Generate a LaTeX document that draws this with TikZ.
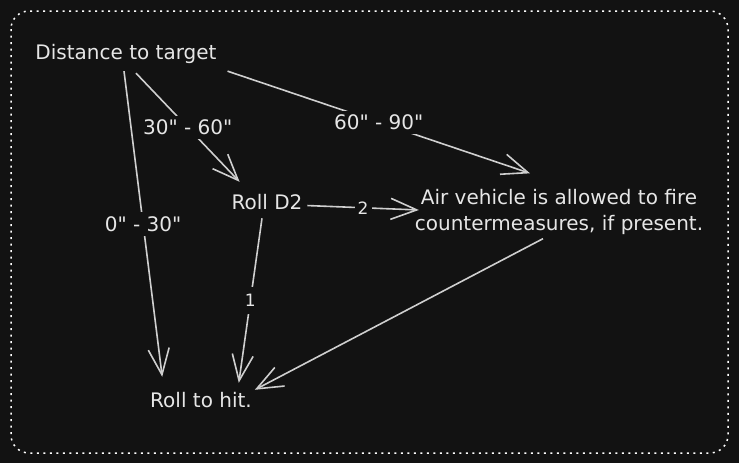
\documentclass[tikz,border=0pt]{standalone}
\usepackage{fontspec}
\setmainfont{DejaVu Sans}[Ligatures=TeXOff]
\usetikzlibrary{arrows.meta,calc}
\definecolor{boardbg}{HTML}{121212}
\definecolor{inkwhite}{HTML}{E6E6E6}
\definecolor{inkgray}{HTML}{CFCFCF}

\begin{document}
\begin{tikzpicture}[x=1pt, y=-1pt,
    txt/.style={text=inkwhite, font=\fontsize{20}{26}\selectfont,
                inner sep=2pt, outer sep=0pt, align=center, anchor=base},
    lbl/.style={text=inkwhite, fill=boardbg, inner sep=4pt,
                font=\fontsize{20}{24}\selectfont},
    sml/.style={lbl, inner sep=3pt, font=\fontsize{17}{20}\selectfont},
    arr/.style={-{Straight Barb[length=26pt,width=21pt]}, line width=1.6pt,
                color=inkgray}
  ]
    % board and dotted frame
    \fill[boardbg] (0,0) rectangle (739,463);
    \draw[white, line width=1.5pt, dash pattern=on 2pt off 4.5pt,
          rounded corners=18pt] (11,11) rectangle (728,453);

    \node[txt] (dist) at (126,59)  {Distance to target};
    \node[txt] (roll) at (267,209) {Roll D2};
    \node[txt, anchor=center] (air) at (559,212)
          {Air vehicle is allowed to fire\\ countermeasures, if present.};
    \node[txt] (hit)  at (201,407) {Roll to hit.};

    \draw[arr] ($(dist.south)+(-2,6)$) -- node[lbl] {0" - 30"}
               ($(hit.north west)+(14,-13)$);
    \draw[arr] ($(dist.south)+(10,8)$) -- node[lbl] {30" - 60"}
               ($(roll.north west)+(10,-10)$);
    \draw[arr] ($(dist.south east)+(9,6)$) -- node[lbl] {60" - 90"}
               ($(air.north)+(-29,-14)$);
    \draw[arr] ($(roll.east)+(3,4)$) -- node[sml] {2}
               ($(air.west)+(6,-2)$);
    \draw[arr] ($(roll.south)+(-5,7)$) -- node[sml, inner sep=7pt] {1}
               ($(hit.north east)+(-15,-7)$);
    \draw[arr] ($(air.south)+(-16,2)$) -- ($(hit.north east)+(1,0)$);
\end{tikzpicture}
\end{document}
